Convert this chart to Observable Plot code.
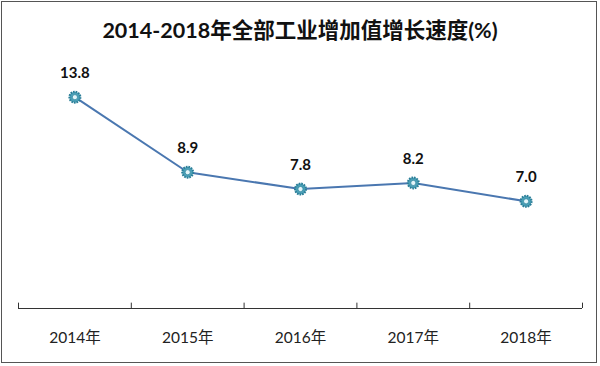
<!DOCTYPE html>
<html><head><meta charset="utf-8">
<script src="https://cdn.jsdelivr.net/npm/d3@7"></script>
<script src="https://cdn.jsdelivr.net/npm/@observablehq/plot@0.6"></script>
<style>
body{margin:0;background:#fff;font-family:Lato,"Noto Sans CJK SC",sans-serif;}
#wrap{position:relative;width:600px;height:366px;}
#frame{position:absolute;left:1px;top:1px;width:594px;height:360px;border:1px solid #555;pointer-events:none;}
#title{height:58px;line-height:60px;text-align:center;font-size:21.5px;font-weight:bold;color:#111;}
</style></head>
<body>
<div id="wrap">
<div id="title">2014-2018年全部工业增加值增长速度(%)</div>
<div id="chart"></div>
<div id="frame"></div>
</div>
<script>
const years = ["2014年","2015年","2016年","2017年","2018年"];
const growth = [13.8, 8.9, 7.8, 8.2, 7.0];
const data = years.map((y,i)=>({i, year:y, v:growth[i]}));
const edges = d3.range(-0.5, years.length, 1);
const font = 'Lato,"Noto Sans CJK SC",sans-serif';
const chart = Plot.plot({
  width:600, height:308,
  marginTop:5, marginBottom:58, marginLeft:18, marginRight:18,
  x:{domain:[-0.5, years.length-0.5], axis:null},
  y:{domain:[0,16], axis:null},
  style:{fontFamily:font, background:"transparent"},
  marks:[
    Plot.ruleY([0],{stroke:"#333", strokeWidth:1}),
    Plot.ruleX(edges,{x:d=>d, y1:0, y2:0.35, stroke:"#333", strokeWidth:1}),
    Plot.text(data,{x:"i", y:0, dy:30, text:"year", fontSize:15.5, fill:"#222"}),
    Plot.line(data,{x:"i", y:"v", stroke:"#4a77b0", strokeWidth:2}),
    Plot.dot(data,{x:"i", y:"v", r:5.5, fill:"#4a9fb6", stroke:"#2a7d97", strokeWidth:2, strokeDasharray:"1.6,1"}),
    Plot.dot(data,{x:"i", y:"v", r:2.6, fill:"#e4f5f9", stroke:"#2f86a0", strokeWidth:0.8}),
    Plot.text(data,{x:"i", y:"v", dy:-24, text:d=>d.v.toFixed(1), fontSize:15, fontWeight:"bold", fill:"#111"})
  ]
});
document.getElementById("chart").appendChild(chart);
</script>
</body></html>
